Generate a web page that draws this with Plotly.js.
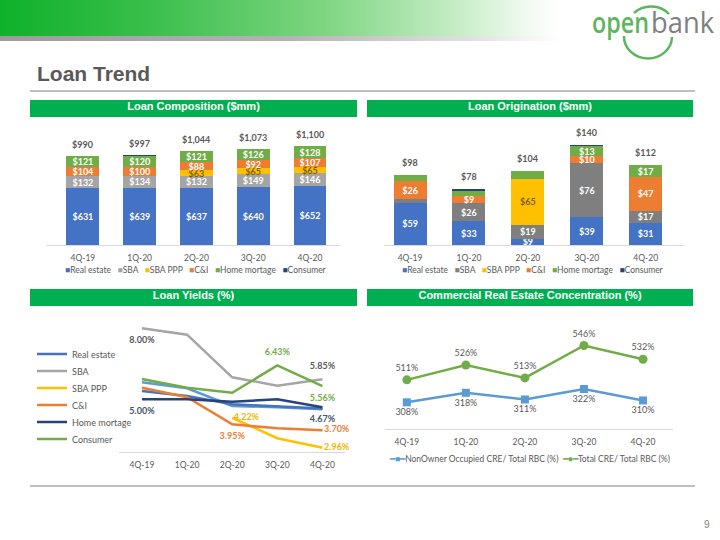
<!DOCTYPE html>
<html>
<head>
<meta charset="utf-8">
<script src="https://cdn.plot.ly/plotly-3.0.1.min.js"></script>
<style>
  html, body { margin: 0; padding: 0; }
  body { width: 720px; height: 540px; position: relative; overflow: hidden; background: #fff;
         font-family: 'Liberation Sans', Arial, sans-serif; }
  .band { position: absolute; left: 0; top: 0; width: 720px; height: 36px;
          background: linear-gradient(to right, #0FB12A 0%, #38BE4A 20%, #7ED581 45%, #C4ECC4 63%, #F4FBF4 74%, #fff 78%); }
  .band2 { position: absolute; left: 0; top: 36px; width: 720px; height: 5px;
           background: linear-gradient(to right, #9C9C9C 0%, #B3B3B3 40%, #E2E2E2 66%, #fff 78%); }
  .logo { position: absolute; left: 0; top: 0; }
  .title { position: absolute; left: 37px; top: 62px; font: bold 21px 'Liberation Sans', Arial, sans-serif; color: #595959; }
  .rule { position: absolute; left: 30px; width: 665px; height: 2px; background: #BFBFBF; }
  .hb { position: absolute; height: 17px; line-height: 17px; background: #00B050; color: #fff; text-align: center;
        font: bold 11px 'Liberation Sans Narrow', 'Liberation Sans', Arial, sans-serif; }
  .pg { position: absolute; left: 704px; top: 519px; font: 10px 'Liberation Sans', Arial, sans-serif; color: #7F7F7F; }
  #chart { position: absolute; left: 0; top: 0; width: 720px; height: 540px; }
</style>
</head>
<body>
<div class="band"></div>
<div class="band2"></div>
<svg class="logo" width="720" height="60" viewBox="0 0 720 60">
  <path d="M634,13 A24,22 0 0 1 669,14" fill="none" stroke="#5DB65D" stroke-width="2.5"/>
  <path d="M624,36 A24,22 0 0 0 672,37" fill="none" stroke="#5DB65D" stroke-width="2.5"/>
  <text x="592" y="33" font-family="Open Sans, sans-serif" font-weight="600" font-size="29" fill="#5DB65D" textLength="57" lengthAdjust="spacingAndGlyphs">open</text>
  <text x="651" y="33" font-family="Open Sans, sans-serif" font-size="29" fill="#808080" textLength="63" lengthAdjust="spacingAndGlyphs">bank</text>
</svg>
<div class="title">Loan Trend</div>
<div class="rule" style="top:90px;"></div>
<div class="hb" style="left:30px; top:100px; width:327px;">Loan Composition ($mm)</div>
<div class="hb" style="left:367px; top:100px; width:326px;">Loan Origination ($mm)</div>
<div class="hb" style="left:30px; top:289px; width:327px;">Loan Yields (%)</div>
<div class="hb" style="left:367px; top:289px; width:326px;">Commercial Real Estate Concentration (%)</div>
<div class="rule" style="top:485px;"></div>
<div class="pg">9</div>
<div id="chart"></div>

<script>
// Quarters and loan categories
const quarters = ['4Q-19', '1Q-20', '2Q-20', '3Q-20', '4Q-20'];
const loanTypes = ['Real estate', 'SBA', 'SBA PPP', 'C&I', 'Home mortage', 'Consumer'];

// Loan composition ($mm)
const compRealEstate = [631, 639, 637, 640, 652];
const compSBA        = [132, 134, 132, 149, 146];
const compPPP        = [0, 0, 63, 65, 65];
const compCI         = [104, 100, 88, 92, 107];
const compHome       = [121, 120, 121, 126, 128];
const compConsumer   = [2, 4, 3, 1, 2];
const compTotals     = [990, 997, 1044, 1073, 1100];

// Loan origination ($mm)
const origRealEstate = [59, 33, 9, 39, 31];
const origSBA        = [5, 26, 19, 76, 17];
const origPPP        = [0, 0, 65, 0, 0];
const origCI         = [26, 9, 0, 10, 47];
const origHome       = [8, 8, 11, 13, 17];
const origConsumer   = [0, 2, 0, 2, 0];
const origTotals     = [98, 78, 104, 140, 112];

// Loan yields (%)
const yieldRealEstate = [5.35, 5.14, 4.79, 4.72, 4.62];
const yieldTotal      = [5.72, 5.47, 4.72, 4.67, 4.58];
const yieldSBA        = [8.00, 7.73, 5.93, 5.58, 5.85];
const yieldPPP        = [null, null, 4.22, 3.36, 2.96];
const yieldCI         = [5.49, 5.09, 3.95, 3.78, 3.70];
const yieldHome       = [5.00, 5.00, 4.90, 5.00, 4.67];
const yieldConsumer   = [5.86, 5.49, 5.28, 6.43, 5.56];

// CRE concentration (% of total risk-based capital)
const creNonOwner = [308, 318, 311, 322, 310];
const creTotal    = [511, 526, 513, 546, 532];
const creNames = ['NonOwner Occupied CRE/ Total RBC (%)', 'Total CRE/ Total RBC (%)'];

const colors = {
  realEstate: '#4472C4', sba: '#A5A5A5', sbaDark: '#7F7F7F', ppp: '#FFC000',
  ci: '#ED7D31', home: '#70AD47', consumer: '#264478', total: '#5B9BD5'
};
const txt = '#595959';
const FONT = 'Lato, sans-serif';

// page pixel -> paper fraction
const px = v => v / 720;
const py = v => 1 - v / 540;
const esc = s => s.replace(/&/g, '&amp;');

function catAxis(x0, x1, range, anchor) {
  return {
    domain: [px(x0), px(x1)], range: range, type: 'category', anchor: anchor,
    showline: true, linecolor: '#D9D9D9', linewidth: 1, showgrid: false, zeroline: false,
    ticks: '', tickfont: { family: FONT, size: 8.5, color: txt }, ticklabelstandoff: 5, fixedrange: true
  };
}
function valAxis(y0, y1, range, anchor) {
  return { domain: [py(y1), py(y0)], range: range, anchor: anchor, visible: false, fixedrange: true };
}

function barTrace(name, vals, color, xa, ya, width, hide, textColor) {
  return {
    type: 'bar', name: name, x: quarters, y: vals, xaxis: xa, yaxis: ya, width: width,
    marker: { color: color, line: { width: 0 } },
    text: vals.map((v, i) => (v === 0 || hide.includes(i)) ? '' : '$' + v),
    textposition: 'inside', insidetextanchor: 'middle', textangle: 0, constraintext: 'none',
    textfont: { family: FONT, size: 9, color: textColor || '#FFFFFF', weight: 700 },
    cliponaxis: false, showlegend: false, hoverinfo: 'skip'
  };
}

const ALL = [0, 1, 2, 3, 4];
const data = [
  // Loan composition
  barTrace(loanTypes[0], compRealEstate, colors.realEstate, 'x', 'y', 0.58, []),
  barTrace(loanTypes[1], compSBA, colors.sba, 'x', 'y', 0.58, []),
  barTrace(loanTypes[2], compPPP, colors.ppp, 'x', 'y', 0.58, [], '#7F6000'),
  barTrace(loanTypes[3], compCI, colors.ci, 'x', 'y', 0.58, []),
  barTrace(loanTypes[4], compHome, colors.home, 'x', 'y', 0.58, []),
  barTrace(loanTypes[5], compConsumer, colors.consumer, 'x', 'y', 0.58, ALL),
  // Loan origination
  barTrace(loanTypes[0], origRealEstate, colors.realEstate, 'x2', 'y2', 0.56, []),
  barTrace(loanTypes[1], origSBA, colors.sbaDark, 'x2', 'y2', 0.56, [0]),
  barTrace(loanTypes[2], origPPP, colors.ppp, 'x2', 'y2', 0.56, [], '#7F6000'),
  barTrace(loanTypes[3], origCI, colors.ci, 'x2', 'y2', 0.56, []),
  barTrace(loanTypes[4], origHome, colors.home, 'x2', 'y2', 0.56, [0, 1, 2]),
  barTrace(loanTypes[5], origConsumer, colors.consumer, 'x2', 'y2', 0.56, ALL)
];

// Yield lines; each named line gets its own legend row so the rows sit 17px apart.
// Transparent markers push the value labels away from the line.
function yieldTrace(name, vals, color, labels, labelColor, legendIdx) {
  return {
    type: 'scatter', mode: 'lines+markers+text', name: name, x: quarters, y: vals, xaxis: 'x3', yaxis: 'y3',
    line: { color: color, width: 2.5 },
    marker: { color: 'rgba(0,0,0,0)', line: { width: 0 }, size: vals.map((v, i) => labels[i] === 'middle right' ? 1 : 11) },
    text: vals.map((v, i) => labels[i] ? v.toFixed(2) + '%' : ''),
    textposition: vals.map((v, i) => labels[i] || 'top center'),
    textfont: { family: FONT, size: 9, color: labelColor, weight: 700 },
    cliponaxis: false, hoverinfo: 'skip',
    showlegend: legendIdx !== null,
    legend: legendIdx ? 'legend' + (legendIdx + 1) : 'legend'
  };
}

data.push(
  yieldTrace('Total', yieldTotal, colors.total, {}, colors.total, null),
  yieldTrace(loanTypes[0], yieldRealEstate, colors.realEstate, {}, colors.realEstate, 0),
  yieldTrace(loanTypes[1], yieldSBA, colors.sba, { 0: 'bottom center', 4: 'top center' }, txt, 1),
  yieldTrace(loanTypes[2], yieldPPP, colors.ppp, { 2: 'middle right', 4: 'middle right' }, '#F0B400', 2),
  yieldTrace(loanTypes[3], yieldCI, colors.ci, { 2: 'bottom center', 4: 'middle right' }, colors.ci, 3),
  yieldTrace(loanTypes[4], yieldHome, colors.consumer, { 0: 'bottom center', 4: 'bottom center' }, '#44546A', 4),
  yieldTrace(loanTypes[5], yieldConsumer, colors.home, { 3: 'top center', 4: 'bottom center' }, colors.home, 5)
);

data.push(
  {
    type: 'scatter', mode: 'lines+markers+text', name: creNames[0], x: quarters, y: creNonOwner,
    xaxis: 'x4', yaxis: 'y4', line: { color: colors.total, width: 2.5 },
    marker: { symbol: 'square', size: 8, color: colors.total },
    text: creNonOwner.map(v => v + '%'), textposition: 'bottom center',
    textfont: { family: FONT, size: 9, color: txt }, cliponaxis: false, showlegend: false, hoverinfo: 'skip'
  },
  {
    type: 'scatter', mode: 'lines+markers+text', name: creNames[1], x: quarters, y: creTotal,
    xaxis: 'x4', yaxis: 'y5', line: { color: colors.home, width: 2.5 },
    marker: { symbol: 'circle', size: 9, color: colors.home },
    text: creTotal.map(v => v + '%'), textposition: 'top center',
    textfont: { family: FONT, size: 9, color: txt }, cliponaxis: false, showlegend: false, hoverinfo: 'skip'
  }
);

// Stack totals above each bar
function totalNotes(totals, xa, ya, shift) {
  return totals.map((t, i) => ({
    xref: xa, yref: ya, x: quarters[i], y: t, text: '$' + t.toLocaleString('en-US'),
    showarrow: false, xanchor: 'center', yanchor: 'bottom', yshift: shift,
    font: { family: FONT, size: 9, color: txt, weight: 700 }
  }));
}

// Compact square-swatch legend line for the stacked bars
function swatchLegend(swatches) {
  return swatches.map(s => '<span style="color:' + s[1] + '">■</span>' + esc(s[0])).join('&nbsp;&nbsp;&nbsp;');
}
const compLegend = swatchLegend(loanTypes.map((n, i) => [n, [colors.realEstate, colors.sba, colors.ppp, colors.ci, colors.home, colors.consumer][i]]));
const origLegend = swatchLegend(loanTypes.map((n, i) => [n, [colors.realEstate, colors.sbaDark, colors.ppp, colors.ci, colors.home, colors.consumer][i]]));
const creLegend = '<span style="color:' + colors.total + '">━■━</span>' + esc(creNames[0]) +
  '&nbsp;&nbsp;<span style="color:' + colors.home + '">━●━</span>' + esc(creNames[1]);

const annotations = [].concat(
  totalNotes(compTotals, 'x', 'y', 4),
  totalNotes(origTotals, 'x2', 'y2', 5),
  [
    { xref: 'paper', yref: 'paper', x: px(196), y: py(270), xanchor: 'center', yanchor: 'middle',
      text: compLegend, showarrow: false, font: { family: FONT, size: 8.5, color: txt } },
    { xref: 'paper', yref: 'paper', x: px(533), y: py(270), xanchor: 'center', yanchor: 'middle',
      text: origLegend, showarrow: false, font: { family: FONT, size: 8.5, color: txt } },
    { xref: 'paper', yref: 'paper', x: px(529), y: py(459), xanchor: 'center', yanchor: 'middle',
      text: creLegend, showarrow: false, font: { family: FONT, size: 8.5, color: txt } }
  ]
);

const layout = {
  width: 720, height: 540, margin: { l: 0, r: 0, t: 0, b: 0 },
  paper_bgcolor: 'rgba(0,0,0,0)', plot_bgcolor: 'rgba(0,0,0,0)',
  barmode: 'stack', bargap: 0.4,
  font: { family: FONT, size: 9, color: txt },
  xaxis:  catAxis(46, 339.5, [-0.65, 4.52], 'y'),
  yaxis:  valAxis(125, 245, [0, 1335], 'x'),
  xaxis2: catAxis(383.5, 684, [-0.45, 4.65], 'y2'),
  yaxis2: valAxis(125, 245, [0, 168], 'x2'),
  xaxis3: catAxis(119.4, 345, [-0.5, 4.5], 'y3'),
  yaxis3: valAxis(310, 452, [2.78, 8.77], 'x3'),
  xaxis4: catAxis(385, 672.5, [-0.37, 4.5], 'y4'),
  yaxis4: valAxis(315, 429, [280, 399.7], 'x4'),
  yaxis5: Object.assign(valAxis(315, 429, [461, 577], 'x4'), { overlaying: 'y4' }),
  showlegend: true,
  annotations: annotations
};

// One legend box per yield line, stacked on the left of the yields plot
loanTypes.forEach((n, i) => {
  layout[i === 0 ? 'legend' : 'legend' + (i + 1)] = {
    x: px(32), y: py(354 + 17 * i), xanchor: 'left', yanchor: 'middle', orientation: 'v',
    bgcolor: 'rgba(0,0,0,0)', borderwidth: 0, itemwidth: 30,
    font: { family: FONT, size: 9, color: txt }
  };
});

Plotly.newPlot('chart', data, layout, { displayModeBar: false, staticPlot: true });
</script>
</body>
</html>
